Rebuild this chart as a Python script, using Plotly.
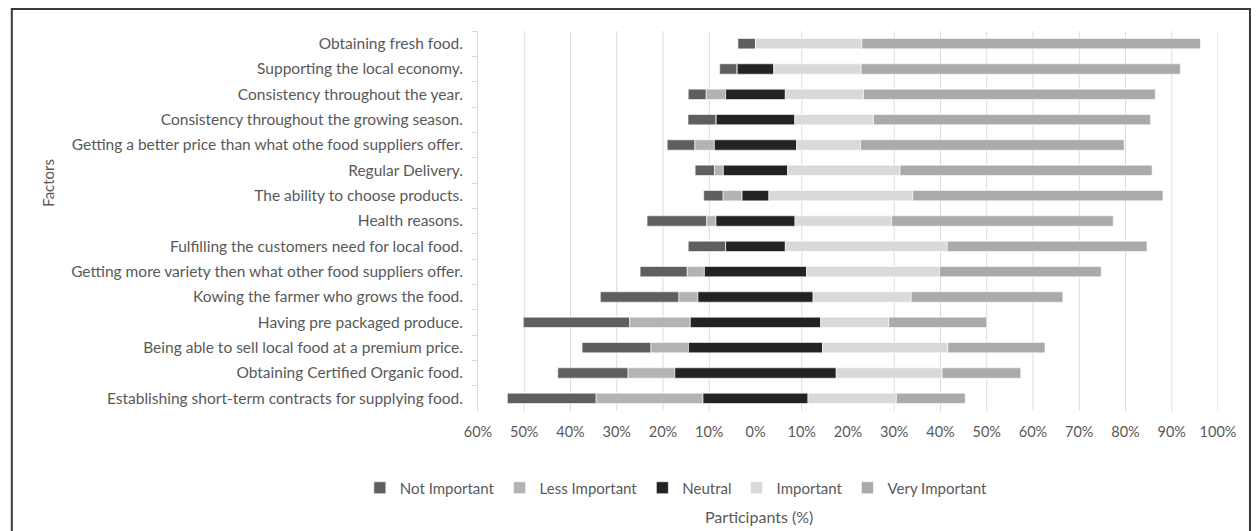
import plotly.graph_objects as go

# Survey factors, top row first
categories = [
    "Obtaining fresh food.",
    "Supporting the local economy.",
    "Consistency throughout the year.",
    "Consistency throughout the growing season.",
    "Getting a better price than what othe food suppliers offer.",
    "Regular Delivery.",
    "The ability to choose products.",
    "Health reasons.",
    "Fulfilling the customers need for local food.",
    "Getting more variety then what other food suppliers offer.",
    "Kowing the farmer who grows the food.",
    "Having pre packaged produce.",
    "Being able to sell local food at a premium price.",
    "Obtaining Certified Organic food.",
    "Establishing short-term contracts for supplying food.",
]

# Share of participants (%) per response level
not_important = [3.8, 3.8, 3.9, 6.1, 6.0, 4.2, 4.2, 12.9, 8.1, 10.2, 17.0, 23.0, 14.9, 15.2, 19.2]
less_important = [0.0, 0.0, 4.2, 0.0, 4.2, 1.9, 4.1, 2.0, 0.0, 3.7, 4.1, 13.1, 8.1, 10.1, 23.1]
neutral = [0.0, 7.9, 12.9, 17.0, 17.8, 13.9, 5.8, 17.1, 12.9, 22.1, 24.9, 28.2, 29.0, 34.9, 22.7]
important = [23.0, 18.9, 16.9, 17.0, 13.8, 24.3, 31.1, 20.9, 35.0, 28.7, 21.2, 14.7, 27.1, 22.9, 19.1]
very_important = [73.2, 69.0, 63.1, 59.9, 57.0, 54.5, 54.1, 47.9, 43.2, 35.0, 32.8, 21.2, 21.0, 17.0, 14.9]

level_names = ["Not Important", "Less Important", "Neutral", "Important", "Very Important"]
level_colors = ["#5f5f5f", "#b3b3b3", "#232323", "#d9d9d9", "#aaaaaa"]

tick_values = list(range(-60, 101, 10))
tick_labels = [f"{abs(v)}%" for v in tick_values]
grid_values = [-50, -40, -30, -20, -10, 10, 30, 40, 50, 60, 70, 80, 90, 100]

# Diverging layout: neutral is split around zero, negatives extend left
half_n = [n / 2 for n in neutral]
bases = [
    [-(h + l + ni) for h, l, ni in zip(half_n, less_important, not_important)],
    [-(h + l) for h, l in zip(half_n, less_important)],
    [-h for h in half_n],
    half_n,
    [h + i for h, i in zip(half_n, important)],
]
lengths = [not_important, less_important, neutral, important, very_important]

fig = go.Figure()
for name, color, base, length in zip(level_names, level_colors, bases, lengths):
    fig.add_trace(go.Bar(
        y=categories, x=length, base=base, orientation="h", name=name,
        marker=dict(color=color, line=dict(color="#ffffff", width=0.6)),
        width=0.41, hoverinfo="skip",
    ))

for g in grid_values:
    fig.add_shape(type="line", xref="x", yref="paper", x0=g, x1=g, y0=0, y1=1,
                  line=dict(color="#dcdcdc", width=1), layer="below")

# Chart frame
fig.add_shape(type="rect", xref="paper", yref="paper",
              x0=-466.5 / 740.5, x1=(1250 - 477.5) / 740.5,
              y0=(411 - 545) / 380, y1=(411 - 9) / 380,
              line=dict(color="#3a3a3a", width=2), layer="below")

font_family = "Lato, 'Open Sans', sans-serif"
text_color = "#595959"

fig.update_layout(
    barmode="overlay",
    width=1256, height=531,
    margin=dict(l=477.5, r=38, t=31, b=120),
    paper_bgcolor="#ffffff", plot_bgcolor="#ffffff",
    font=dict(family=font_family, size=15, color=text_color),
    showlegend=True,
    legend=dict(orientation="h", x=(676 - 477.5) / 740.5, xanchor="center",
                y=(411 - 488) / 380, yanchor="middle",
                font=dict(size=15, color=text_color), traceorder="normal",
                itemwidth=30, bgcolor="rgba(0,0,0,0)"),
    xaxis=dict(range=[-60, 100], tickvals=tick_values, ticktext=tick_labels,
               showgrid=False, zeroline=False, showline=False, ticks="",
               ticklabelstandoff=10, tickfont=dict(size=14.5, color=text_color)),
    yaxis=dict(categoryorder="array", categoryarray=categories, autorange="reversed",
               showgrid=False, zeroline=False, showline=True, linecolor="#d9d9d9",
               linewidth=1, ticks="outside", tickson="boundaries", ticklen=5,
               tickcolor="#d9d9d9", ticklabelstandoff=11,
               tickfont=dict(size=15.5, color=text_color)),
    annotations=[
        dict(text="Factors", xref="paper", yref="paper",
             x=(47 - 477.5) / 740.5, y=(411 - 183) / 380, textangle=-90,
             showarrow=False, xanchor="center", yanchor="middle",
             font=dict(size=15, color=text_color)),
        dict(text="Participants (%)", xref="paper", yref="paper",
             x=(759 - 477.5) / 740.5, y=(411 - 516) / 380,
             showarrow=False, xanchor="center", yanchor="middle",
             font=dict(size=16, color=text_color)),
    ],
)

fig.write_html("out.html")
